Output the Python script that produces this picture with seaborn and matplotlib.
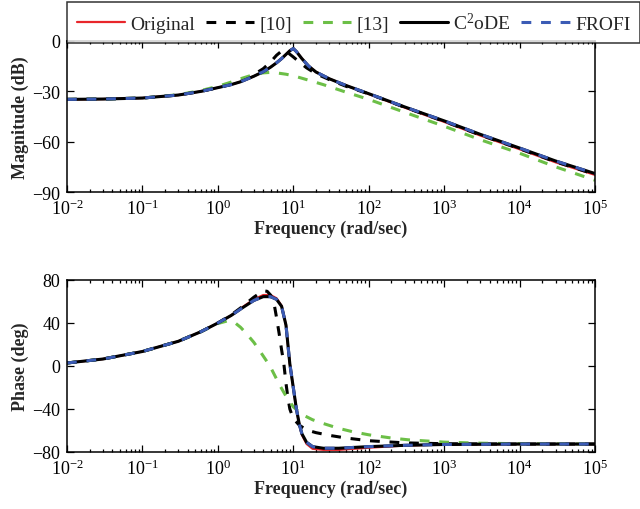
import matplotlib
matplotlib.use("Agg")
import matplotlib.pyplot as plt
from matplotlib.ticker import LogLocator, NullFormatter
import seaborn as sns
import numpy as np
import pandas as pd

sns.set_theme(style="white")
plt.rcParams["font.family"] = ["Liberation Serif", "DejaVu Serif"]
plt.rcParams["mathtext.fontset"] = "custom"
plt.rcParams["mathtext.rm"] = "Liberation Serif"
plt.rcParams["mathtext.it"] = "Liberation Serif:italic"
plt.rcParams["mathtext.bf"] = "Liberation Serif:bold"

# valori letti dal grafico
# --- modulo (dB)
w_orig = [0.01, 0.03, 0.1, 0.3, 0.6, 1.0, 1.5, 2.0, 3.0, 4.0, 5.0, 6.0, 7.0, 8.0, 9.0, 10.0,
          11.0, 13.0, 16.0, 20.0, 30.0, 50.0, 100, 300, 1000, 3000, 1e4, 3e4, 1e5]
mag_orig = [-34.8, -34.6, -34.0, -32.2, -30.0, -27.8, -26.0, -24.3, -21.0, -18.3, -15.6, -13.0,
            -10.5, -8.0, -5.8, -4.5, -6.3, -10.5, -15.0, -18.5, -22.5, -26.5, -31.6, -39.7,
            -48.2, -56.3, -64.5, -72.3, -79.8]
mag_frofi = [-34.8, -34.6, -34.0, -32.2, -30.0, -27.8, -26.0, -24.3, -21.0, -18.3, -15.6, -13.0,
             -10.5, -8.0, -5.8, -4.5, -6.3, -10.5, -15.0, -18.5, -22.5, -26.5, -31.4, -39.3,
             -47.6, -55.6, -63.8, -71.5, -79.0]

w_ref10 = [0.01, 0.03, 0.1, 0.3, 0.6, 1.0, 1.5, 2.0, 3.0, 4.0, 5.0, 6.0, 7.0, 7.5, 8.5, 10.0,
           12.0, 15.0, 20.0, 30.0, 50.0, 100, 300, 1000, 3000, 1e4, 3e4, 1e5]
mag_ref10 = [-34.8, -34.6, -34.0, -32.2, -30.0, -27.8, -25.8, -24.0, -20.0, -16.5, -12.5, -8.5,
             -6.0, -5.8, -7.0, -9.5, -12.5, -16.0, -19.5, -23.0, -27.0, -31.5, -39.5,
             -47.9, -56.0, -64.2, -72.0, -79.5]

w_ref13 = [0.01, 0.03, 0.1, 0.3, 0.6, 1.0, 1.5, 2.0, 3.0, 4.0, 5.0, 6.0, 8.0, 10.0, 15.0, 25.0,
           50.0, 100, 300, 1000, 3000, 1e4, 3e4, 1e5]
mag_ref13 = [-34.8, -34.6, -34.0, -32.0, -29.5, -27.0, -24.5, -22.5, -20.0, -19.0, -18.7, -19.0,
             -19.8, -20.7, -23.0, -26.0, -30.5, -34.8, -42.5, -50.8, -58.8, -66.9, -75.0, -83.0]

# --- fase (deg)
w_ph = [0.01, 0.03, 0.1, 0.3, 0.6, 1.0, 1.5, 2.0, 3.0, 4.0, 5.0, 6.0, 7.0, 8.0, 9.0, 10.0,
        11.0, 12.0, 13.0, 15.0, 18.0, 25.0, 40.0, 100, 300, 1000, 1e4, 1e5]
ph_orig = [2.8, 6.5, 13.5, 23.0, 32.0, 40.0, 47.0, 53.5, 62.0, 66.0, 66.0, 63.0, 56.0, 38.0,
           2.0, -20.0, -40.0, -54.0, -64.0, -72.5, -77.0, -78.0, -78.0, -76.0, -74.0, -73.0,
           -72.6, -72.6]
ph_frofi = [2.8, 6.5, 13.5, 23.0, 32.0, 40.0, 47.0, 53.0, 61.0, 64.5, 64.5, 62.0, 55.5, 38.0,
            2.0, -20.0, -40.0, -54.0, -63.0, -71.0, -75.0, -76.5, -76.5, -75.0, -73.8, -73.0,
            -72.6, -72.6]

w_ph10 = [0.01, 0.03, 0.1, 0.3, 0.6, 1.0, 1.5, 2.0, 3.0, 4.0, 4.5, 5.0, 5.5, 6.0, 6.5, 7.0,
          7.5, 8.0, 8.5, 9.0, 10.0, 12.0, 15.0, 20.0, 30.0, 50.0, 100, 300, 1000, 1e4, 1e5]
ph_ref10 = [2.8, 6.5, 13.5, 23.0, 32.0, 40.0, 47.5, 54.0, 64.0, 70.0, 69.5, 66.0, 60.0, 45.0,
            30.0, 15.0, 2.0, -16.0, -30.0, -40.0, -49.0, -55.0, -59.5, -62.0, -64.5, -67.0,
            -69.5, -71.5, -72.3, -72.6, -72.6]

w_ph13 = [0.01, 0.03, 0.1, 0.3, 0.6, 1.0, 1.35, 1.7, 2.0, 2.4, 3.0, 3.6, 4.2, 4.9, 5.7, 6.7,
          8.0, 10.0, 13.0, 18.0, 25.0, 40.0, 60.0, 100, 200, 340, 1000, 3000, 1e4, 1e5]
ph_ref13 = [2.8, 6.5, 13.5, 23.0, 32.0, 39.5, 42.0, 40.0, 36.0, 30.0, 22.0, 14.0, 7.0, 0.0,
            -9.0, -18.6, -28.0, -38.0, -45.0, -50.0, -53.5, -58.0, -61.0, -64.0, -67.0, -68.7,
            -70.8, -71.8, -72.3, -72.6]

labels = ["Original", "[10]", "[13]", "C$^2$oDE", "FROFI"]
red = "#e8262b"
green = "#6cbf47"
blue = "#3b5bb5"
dash = (0, (3.2, 3.2))

fig = plt.figure(figsize=(6.4, 5.1), dpi=100)
ax1 = fig.add_axes([67 / 640, 1 - 193 / 510, 528 / 640, 151 / 510])
ax2 = fig.add_axes([67 / 640, 1 - 453 / 510, 528 / 640, 172 / 510])

series = [
    (ax1, w_orig, mag_orig, w_ref10, mag_ref10, w_ref13, mag_ref13, mag_frofi),
    (ax2, w_ph, ph_orig, w_ph10, ph_ref10, w_ph13, ph_ref13, ph_frofi),
]
for ax, wo, yo, w10, y10, w13, y13, yf in series:
    sns.lineplot(x=wo, y=yo, ax=ax, color=red, lw=1.6, label=labels[0])
    sns.lineplot(x=w10, y=y10, ax=ax, color="black", lw=2.2, linestyle=dash, label=labels[1])
    sns.lineplot(x=w13, y=y13, ax=ax, color=green, lw=2.2, linestyle=dash, label=labels[2])
    sns.lineplot(x=wo, y=yf, ax=ax, color="black", lw=2.2, label=labels[3])
    sns.lineplot(x=wo, y=yf, ax=ax, color=blue, lw=2.2, linestyle=dash, label=labels[4])
    ax.set_xscale("log")
    ax.set_xlim(1e-2, 1e5)
    ax.set_xticks([1e-2, 1e-1, 1e0, 1e1, 1e2, 1e3, 1e4, 1e5])
    ax.xaxis.set_minor_locator(LogLocator(base=10, subs=np.arange(2, 10), numticks=20))
    ax.xaxis.set_minor_formatter(NullFormatter())
    ax.tick_params(which="both", direction="in", top=True, right=True, bottom=True, left=True,
                   colors="black", labelsize=13, width=0.9)
    ax.tick_params(which="major", length=5, pad=5)
    ax.tick_params(which="minor", length=2.5)
    for s in ax.spines.values():
        s.set_color("black")
        s.set_linewidth(1.1)
    ax.set_xlabel("Frequency (rad/sec)", fontsize=13, fontweight="bold", labelpad=1)
    handles, leg_labels = ax.get_legend_handles_labels()
    ax.get_legend().remove()

ax1.set_ylim(-90, 0)
ax1.set_yticks([-90, -60, -30, 0])
ax1.set_ylabel("Magnitude (dB)", fontsize=13, fontweight="bold", labelpad=2)
ax2.set_ylim(-80, 80)
ax2.set_yticks([-80, -40, 0, 40, 80])
ax2.set_ylabel("Phase (deg)", fontsize=13, fontweight="bold", labelpad=2)

leg = fig.legend(handles, leg_labels, loc="upper left", bbox_to_anchor=(67 / 640, 1 - 3 / 510),
                 ncol=5, fontsize=14, frameon=True, fancybox=False, edgecolor="black",
                 handlelength=2.5, handletextpad=0.26, columnspacing=0.55, borderpad=0.5,
                 borderaxespad=0)
leg.get_frame().set_linewidth(1.1)

fig.savefig("out.png", dpi=100)
